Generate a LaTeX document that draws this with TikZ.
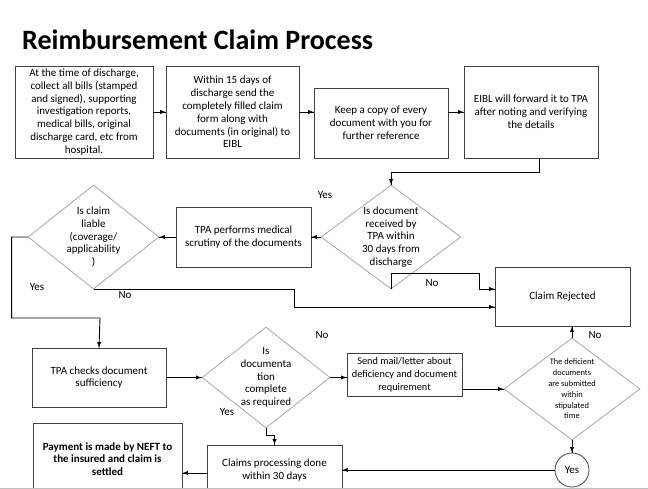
\documentclass[tikz,border=0pt]{standalone}
\usepackage{fontspec}
\setmainfont{Carlito}
\usetikzlibrary{shapes.geometric}
\usetikzlibrary{decorations.markings}
\usetikzlibrary{calc}

\tikzset{
	box/.style={draw=black!75, line width=0.8pt, rectangle, inner sep=0pt, align=center, font=\fontsize{11}{12.8}\selectfont},
	dia/.style={draw=black!35, line width=0.8pt, diamond, inner sep=0pt},
	txt/.style={align=center, inner sep=0pt, font=\fontsize{11}{12.8}\selectfont},
	flow/.style={line width=0.9pt, postaction={decorate},
		decoration={markings, mark=at position 1 with {\arrow{latex}}}},
	conn/.style={line width=0.9pt}
}

\begin{document}
\begin{tikzpicture}[x=1pt,y=-1pt]
	\clip (0,0) rectangle (648,489);
	\node[anchor=west, inner sep=0pt, font=\fontsize{28}{32}\selectfont\bfseries] (title) at (22,40) {Reimbursement Claim Process};
	
	\node[box, minimum width=138pt, minimum height=92pt] (collect) at (84,112) {At the time of discharge,\\collect all bills (stamped\\and signed), supporting\\investigation reports,\\medical bills, original\\discharge card, etc from\\hospital.};
	\node[box, minimum width=133pt, minimum height=92pt] (send) at (232.5,112) {Within 15 days of\\discharge send the\\completely filled claim\\form along with\\documents (in original) to\\EIBL};
	\node[box, minimum width=134pt, minimum height=70pt] (copy) at (381,123) {Keep a copy of every\\document with you for\\further reference};
	\node[box, minimum width=134pt, minimum height=92pt] (forward) at (531,112) {EIBL will forward it to TPA\\after noting and verifying\\the details};
	
	\node[dia, minimum width=140pt, minimum height=104pt] (received) at (391,237) {};
	\node[txt] (received-t) at (received) {Is document\\received by\\TPA within\\30 days from\\discharge};
	\node[box, minimum width=135pt, minimum height=60pt] (scrutiny) at (243.5,237) {TPA performs medical\\scrutiny of the documents};
	\node[dia, minimum width=131pt, minimum height=104pt] (liable) at (93.5,237) {};
	\node[txt] (liable-t) at (liable) {Is claim\\liable\\(coverage/\\applicability\\)};
	\node[box, minimum width=135pt, minimum height=59pt] (rejected) at (562.5,296.5) {Claim Rejected};
	
	\node[box, minimum width=134pt, minimum height=59pt] (sufficiency) at (99,377.5) {TPA checks document\\sufficiency};
	\node[dia, minimum width=128pt, minimum height=101pt] (complete) at (266,377.5) {};
	\node[txt] (complete-t) at (complete) {Is\\documenta\\tion\\complete\\as required};
	\node[box, minimum width=115pt, minimum height=43pt, font=\fontsize{10.3}{12.8}\selectfont] (mail) at (404.5,374.5) {Send mail/letter about\\deficiency and document\\requirement};
	\node[dia, minimum width=136pt, minimum height=102pt] (deficient) at (572,389) {};
	\node[txt, font=\fontsize{8.4}{10.8}\selectfont] (deficient-t) at (deficient) {The deficient\\documents\\are submitted\\within\\stipulated\\time};
	\node[circle, draw=black!75, line width=0.8pt, minimum size=34pt, inner sep=0pt, font=\fontsize{11}{12.8}\selectfont] (yescirc) at (572,470) {Yes};
	\node[box, minimum width=135pt, minimum height=50pt] (processing) at (274.5,470) {Claims processing done\\within 30 days};
	\node[box, minimum width=149pt, minimum height=72pt, font=\fontsize{11}{12.8}\selectfont\bfseries] (payment) at (107.5,459) {Payment is made by NEFT to\\the insured and claim is\\settled};
	
	\draw[flow] (collect.east) -- (send.west);
	\draw[flow] (send.east) -- (send.east -| copy.west);
	\draw[flow] (forward.west -| copy.east) -- (forward.west);
	\draw[flow] ($(forward.south)+(8,0)$) -- ++(0,14) -| (received.north);
	\draw[flow] (received.west) -- (scrutiny.east); \node (yes1) at (325,195) [txt] {Yes};
	\draw[flow] (scrutiny.west) -- (liable.east);
	\draw[flow] (liable.west) -- ++(-16,0) |- (100,318) -- (sufficiency.north); \node (yes2) at (37,287) [txt] {Yes};
	\draw[flow] (liable.south) -| (294,307) -- ($(rejected.west)+(0,10.5)$); \node (no1) at (125,295) [txt] {No};
	\draw[flow] (received.south) -- ++(0,-16) -| (479,289) -- ($(rejected.west)+(0,-7.5)$); \node (no2) at (432,283) [txt] {No};
	\draw[flow] (sufficiency.east) -- (complete.west);
	\draw[flow] (complete.east) -- (complete.east -| mail.west); \node (no3) at (322,335) [txt] {No};
	\draw[flow] (mail.east |- deficient.west) -- (deficient.west);
	\draw[flow] (deficient.north) -- (deficient.north |- rejected.south); \node (no4) at (595,335) [txt] {No};
	\draw[flow] (deficient.south) -- (yescirc.north);
	\draw[flow] (yescirc.west) -- (yescirc.west -| processing.east);
	\draw[flow] (complete.south) -- ++(0,7) -| (processing.north); \node (yes3) at (227,412) [txt] {Yes};
	\draw[flow] ($(processing.west)+(0,3)$) -- ($(payment.east |- processing.west)+(0,3)$);
	
	\draw[black!25, line width=0.8pt] (0,488) -- (648,488);
\end{tikzpicture}
\end{document}
